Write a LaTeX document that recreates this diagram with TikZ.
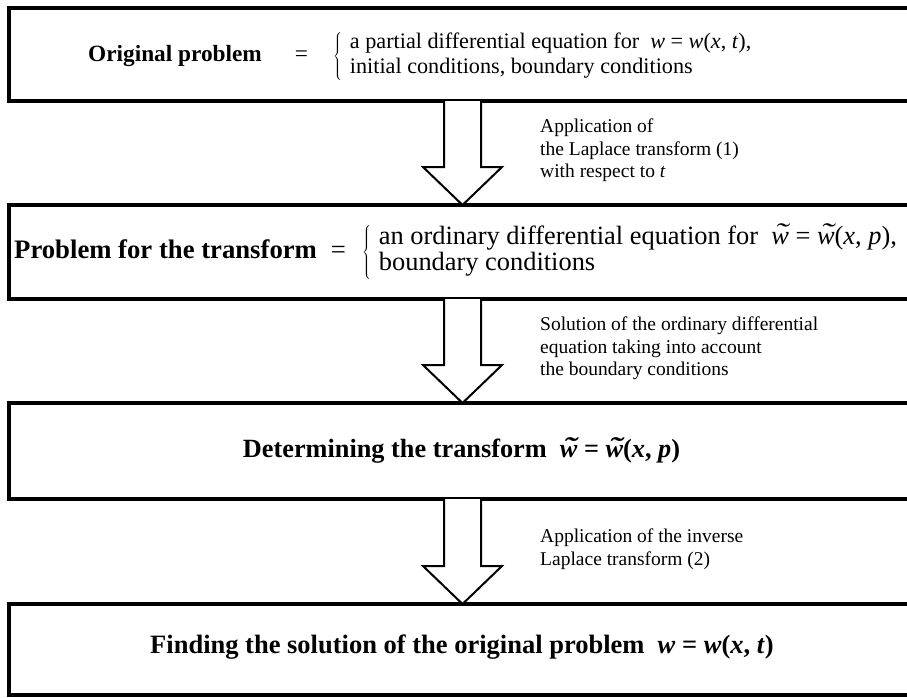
\documentclass[tikz,border=0pt]{standalone}
\usepackage{fontspec}
\usepackage{graphicx}
\setmainfont{Liberation Serif}
\usetikzlibrary{calc}
\newcommand{\fs}[2]{\fontsize{#1}{#2}\selectfont}
\newcommand{\tw}{\ooalign{w\cr\hidewidth\kern0.08em\raisebox{0.08em}{\scalebox{1.5}[1]{\char"02DC}}\hidewidth\cr}}
\tikzset{
  stagebox/.style={draw, line width=4pt, minimum width=907pt, outer sep=0pt, inner sep=0pt},
  bigarrow/.style={draw, line width=2pt, fill=white, line join=miter},
  maintext/.style={inner sep=0pt},
  sidetext/.style={inner sep=0pt, align=left, anchor=north west, font=\fs{19.5}{22.3}}
}
\begin{document}
\begin{tikzpicture}[x=1pt,y=-1pt]
\useasboundingbox (0,0) rectangle (907,697);
% boxes
\node[stagebox, minimum height=93pt] (b1) at (462.5,54.5) {};
\node[stagebox, minimum height=94pt] (b2) at (462.5,252) {};
\node[stagebox, minimum height=96pt] (b3) at (462.5,451) {};
\node[stagebox, minimum height=91pt] (b4) at (462.5,649.5) {};
% arrows
\foreach \a/\b in {b1/b2, b2/b3, b3/b4}{
  \draw[bigarrow] ($(\a.south)+(-18.5,0)$) -- ($(\b.north)+(-18.5,-38)$) -- ($(\b.north)+(-39.5,-38)$) -- (\b.north) -- ($(\b.north)+(39.5,-38)$) -- ($(\b.north)+(18.5,-38)$) -- ($(\a.south)+(18.5,0)$);
}
% box texts
\node[maintext, anchor=west] (t1) at (88,56) {\fs{23.3}{26}\textbf{Original problem}\hspace{33pt}=\hspace{25pt}\fs{22.2}{25.5}$\left\{\hspace{8pt}\mbox{\begin{tabular}{@{}l@{}}a partial differential equation for~~\textit{w}~=~\textit{w}(\textit{x}, \textit{t}),\\ initial conditions, boundary conditions\end{tabular}}\right.$};
\node[maintext, anchor=west] (t2) at (14,252) {\fs{26.7}{29}\textbf{Problem for the transform}\hspace{14pt}=\hspace{16pt}\fs{26.4}{26.5}$\left\{\hspace{8pt}\mbox{\begin{tabular}{@{}l@{}}an ordinary differential equation for~~\textit{\tw}~=~\textit{\tw}(\textit{x}, \textit{p}),\\ boundary conditions\end{tabular}}\right.$};
\node[maintext] (t3) at (461.5,451) {\fs{26.3}{29}\textbf{Determining the transform~~\textit{\tw}~=~\textit{\tw}(\textit{x}, \textit{p})}};
\node[maintext] (t4) at (462,647) {\fs{26.5}{29}\textbf{Finding the solution of the original problem~~\textit{w}~=~\textit{w}(\textit{x}, \textit{t})}};
% arrow labels
\node[sidetext] (l1) at (540,119) {Application of\\ the Laplace transform (1)\\ with respect to \textit{t}};
\node[sidetext] (l2) at (540,317) {Solution of the ordinary differential\\ equation taking into account\\ the boundary conditions};
\node[sidetext] (l3) at (540,529) {Application of the inverse\\ Laplace transform (2)};
\end{tikzpicture}
\end{document}
